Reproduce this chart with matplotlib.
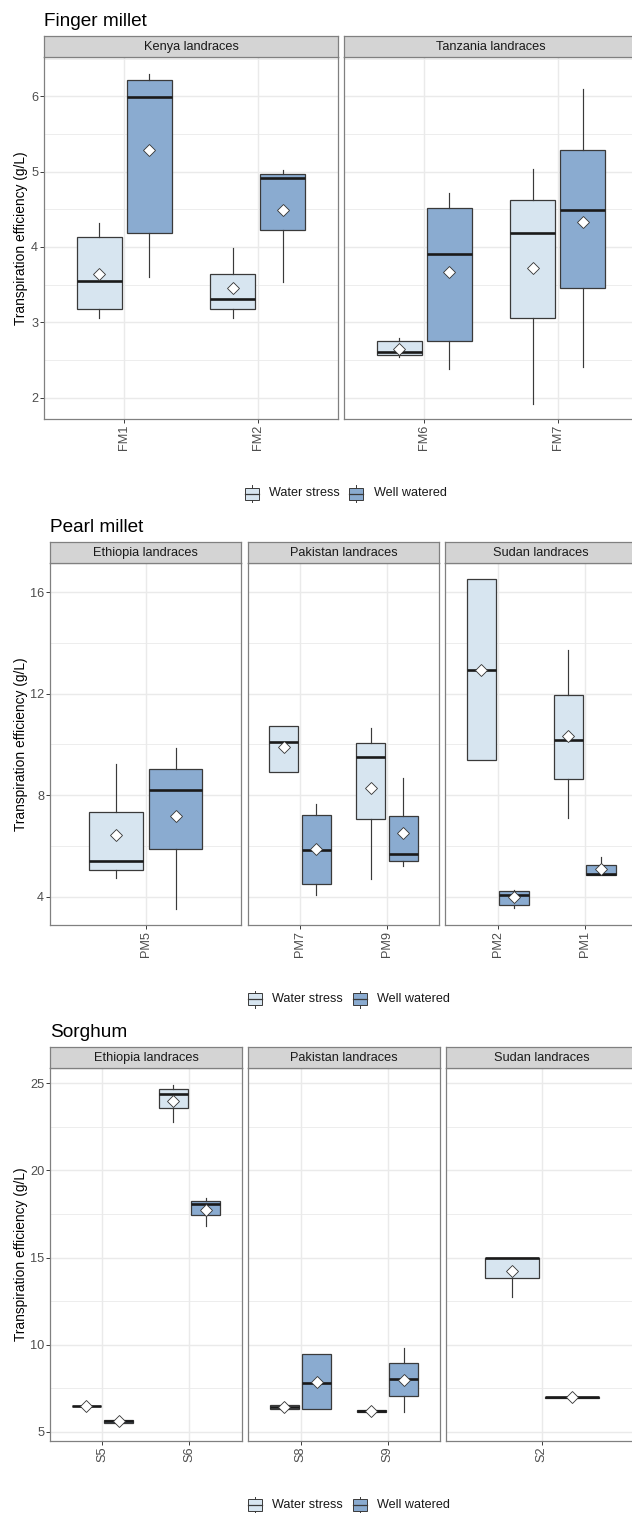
import numpy as np
import matplotlib
matplotlib.use("Agg")
import matplotlib.pyplot as plt
from matplotlib.patches import Rectangle

plt.rcParams['font.family'] = ['Liberation Sans', 'DejaVu Sans']

# ---------------- data (lower whisker, Q1, median, Q3, upper whisker, mean) ----------------
conditions = ["Water stress", "Well watered"]

fm_facets = ["Kenya landraces", "Tanzania landraces"]
fm_genotypes = [["FM1", "FM2"], ["FM6", "FM7"]]
fm_ws = {"FM1": [3.05, 3.18, 3.55, 4.13, 4.32, 3.64],
         "FM2": [3.05, 3.18, 3.31, 3.64, 3.98, 3.45],
         "FM6": [2.54, 2.565, 2.61, 2.75, 2.79, 2.65],
         "FM7": [1.92, 3.05, 4.19, 4.62, 5.04, 3.72]}
fm_ww = {"FM1": [3.60, 4.19, 5.99, 6.22, 6.30, 5.29],
         "FM2": [3.53, 4.22, 4.91, 4.97, 5.02, 4.49],
         "FM6": [2.375, 2.755, 3.90, 4.52, 4.72, 3.67],
         "FM7": [2.41, 3.45, 4.49, 5.29, 6.09, 4.33]}

pm_facets = ["Ethiopia landraces", "Pakistan landraces", "Sudan landraces"]
pm_genotypes = [["PM5"], ["PM7", "PM9"], ["PM2", "PM1"]]
pm_ws = {"PM5": [4.73, 5.05, 5.39, 7.32, 9.23, 6.45],
         "PM7": [8.91, 8.91, 10.11, 10.74, 10.74, 9.89],
         "PM9": [4.68, 7.08, 9.50, 10.07, 10.64, 8.28],
         "PM2": [9.38, 9.38, 12.94, 16.51, 16.51, 12.95],
         "PM1": [7.11, 8.64, 10.18, 11.94, 13.71, 10.35]}
pm_ww = {"PM5": [3.52, 5.87, 8.21, 9.03, 9.85, 7.19],
         "PM7": [4.05, 4.49, 5.85, 7.21, 7.67, 5.87],
         "PM9": [5.20, 5.42, 5.68, 7.17, 8.66, 6.50],
         "PM2": [3.57, 3.68, 4.06, 4.23, 4.28, 3.97],
         "PM1": [4.84, 4.86, 4.90, 5.23, 5.56, 5.10]}

sg_facets = ["Ethiopia landraces", "Pakistan landraces", "Sudan landraces"]
sg_genotypes = [["S5", "S6"], ["S8", "S9"], ["S2"]]
sg_ws = {"S5": [6.45, 6.46, 6.48, 6.50, 6.51, 6.48],
         "S6": [22.80, 23.58, 24.37, 24.66, 24.90, 24.00],
         "S8": [6.30, 6.30, 6.42, 6.53, 6.53, 6.42],
         "S9": [6.13, 6.15, 6.19, 6.23, 6.25, 6.19],
         "S2": [12.75, 13.84, 14.95, 14.97, 14.97, 14.24]}
sg_ww = {"S5": [5.48, 5.50, 5.60, 5.69, 5.71, 5.60],
         "S6": [16.83, 17.42, 18.05, 18.23, 18.40, 17.74],
         "S8": [6.30, 6.30, 7.78, 9.48, 9.48, 7.87],
         "S9": [6.15, 7.07, 8.04, 8.93, 9.79, 7.98],
         "S2": [6.95, 6.96, 6.97, 6.98, 6.99, 6.97]}

# ---------------- style ----------------
W, H, DPI = 632, 1513, 100
FILL = {"Water stress": "#D7E5F0", "Well watered": "#8AABD0"}
EDGE = "#3A3A3A"
BORDER = "#808080"
GRID = "#EAEAEA"
TICKTXT = "#4D4D4D"

fig = plt.figure(figsize=(W / DPI, H / DPI), dpi=DPI)
overlay = fig.add_axes([0, 0, 1, 1], zorder=10)
overlay.set_xlim(0, W)
overlay.set_ylim(H, 0)
overlay.axis('off')


def fig_rect(x0, y0, x1, y1):
    return [x0 / W, 1 - y1 / H, (x1 - x0) / W, (y1 - y0) / H]


def stats(v):
    lo, q1, med, q3, hi, mean = v
    return dict(whislo=lo, q1=q1, med=med, q3=q3, whishi=hi, mean=mean)


def draw_panel(x0, x1, y0, y1, sy0, facet, genos, ws, ww, ylim, major, minor, show_y):
    ax = fig.add_axes(fig_rect(x0, y0, x1, y1))
    n = len(genos)
    pos = np.arange(1, n + 1)
    ax.set_xlim(0.4, n + 0.6)
    ax.set_ylim(*ylim)
    ax.set_axisbelow(True)
    for yv in minor:
        ax.axhline(yv, color=GRID, lw=0.6, zorder=0)
    for yv in major:
        ax.axhline(yv, color=GRID, lw=1.05, zorder=0)
    for xv in pos:
        ax.axvline(xv, color=GRID, lw=1.05, zorder=0)
    width = 0.3375
    for cond, data, off in [("Water stress", ws, -0.1875), ("Well watered", ww, 0.1875)]:
        st = [stats(data[g]) for g in genos]
        ax.bxp(st, positions=pos + off, widths=width, patch_artist=True,
               showmeans=True, showfliers=False, showcaps=False,
               boxprops=dict(facecolor=FILL[cond], edgecolor=EDGE, lw=0.9),
               medianprops=dict(color="#1A1A1A", lw=1.9, solid_capstyle='butt'),
               whiskerprops=dict(color=EDGE, lw=0.85),
               meanprops=dict(marker='D', markerfacecolor='white', markeredgecolor='#333333',
                              markersize=6.3, markeredgewidth=0.6),
               manage_ticks=False)
    ax.set_xticks(pos)
    ax.set_xticklabels(genos, rotation=90)
    ax.set_yticks(major)
    ax.tick_params(axis='both', length=2.6, width=0.7, color=EDGE, labelcolor=TICKTXT,
                   labelsize=9.2, pad=1.6)
    if show_y:
        ax.set_yticklabels([f"{v:g}" for v in major])
    else:
        ax.tick_params(axis='y', left=False, labelleft=False)
    for s in ax.spines.values():
        s.set_color(BORDER)
        s.set_linewidth(0.9)
    # strip
    sax = fig.add_axes(fig_rect(x0, sy0, x1, y0))
    sax.set_facecolor("#D4D4D4")
    sax.set_xticks([])
    sax.set_yticks([])
    for s in sax.spines.values():
        s.set_color(BORDER)
        s.set_linewidth(0.9)
    sax.text(0.5, 0.47, facet, transform=sax.transAxes, ha='center', va='center',
             fontsize=9.2, color='#1A1A1A')
    return ax


def draw_legend(k1, t1, k2, t2, yc):
    for kx, tx, cond in [(k1, t1, "Water stress"), (k2, t2, "Well watered")]:
        overlay.add_patch(Rectangle((kx, yc - 6), 14, 12, facecolor=FILL[cond],
                                    edgecolor=EDGE, lw=0.7))
        overlay.plot([kx, kx + 14], [yc, yc], color=EDGE, lw=0.9)
        overlay.plot([kx + 7, kx + 7], [yc - 8.5, yc - 6], color=EDGE, lw=0.7)
        overlay.plot([kx + 7, kx + 7], [yc + 6, yc + 8.5], color=EDGE, lw=0.7)
        overlay.text(tx, yc, cond, ha='left', va='center', fontsize=9.1, color='#1A1A1A')


def draw_section(title, title_base, facets, genotypes, ws, ww, xs, sy0, y0, y1,
                 ylim, major, minor, legend):
    for i, (facet, genos) in enumerate(zip(facets, genotypes)):
        draw_panel(xs[i][0], xs[i][1], y0, y1, sy0, facet, genos, ws, ww,
                   ylim, major, minor, i == 0)
    overlay.text(xs[0][0], title_base, title, ha='left', va='baseline', fontsize=13.7,
                 color='black')
    overlay.text(21, (y0 + y1) / 2, "Transpiration efficiency (g/L)", rotation=90,
                 ha='center', va='center', fontsize=9.9, color='black')
    draw_legend(*legend)


# Finger millet
draw_section("Finger millet", 26, fm_facets, fm_genotypes, fm_ws, fm_ww,
             [(44, 338), (344, 638)], 35.5, 57, 419,
             (1.715, 6.52), [2, 3, 4, 5, 6], [2.5, 3.5, 4.5, 5.5, 6.5],
             (245, 269, 349, 373.7, 493.5))

# Pearl millet
draw_section("Pearl millet", 532.3, pm_facets, pm_genotypes, pm_ws, pm_ww,
             [(50, 241.3), (247.7, 439.3), (445.3, 637)], 542.3, 563.3, 925,
             (2.885, 17.14), [4, 8, 12, 16], [6, 10, 14],
             (247.7, 272.3, 352.7, 376.7, 999))

# Sorghum
draw_section("Sorghum", 1037.3, sg_facets, sg_genotypes, sg_ws, sg_ww,
             [(50.3, 241.7), (248.3, 439.7), (446, 637.5)], 1046.7, 1067.7, 1440.7,
             (4.48, 25.9), [5, 10, 15, 20, 25], [7.5, 12.5, 17.5, 22.5],
             (247.7, 272.3, 352.7, 376.7, 1505))

fig.savefig("out.png", dpi=DPI)
